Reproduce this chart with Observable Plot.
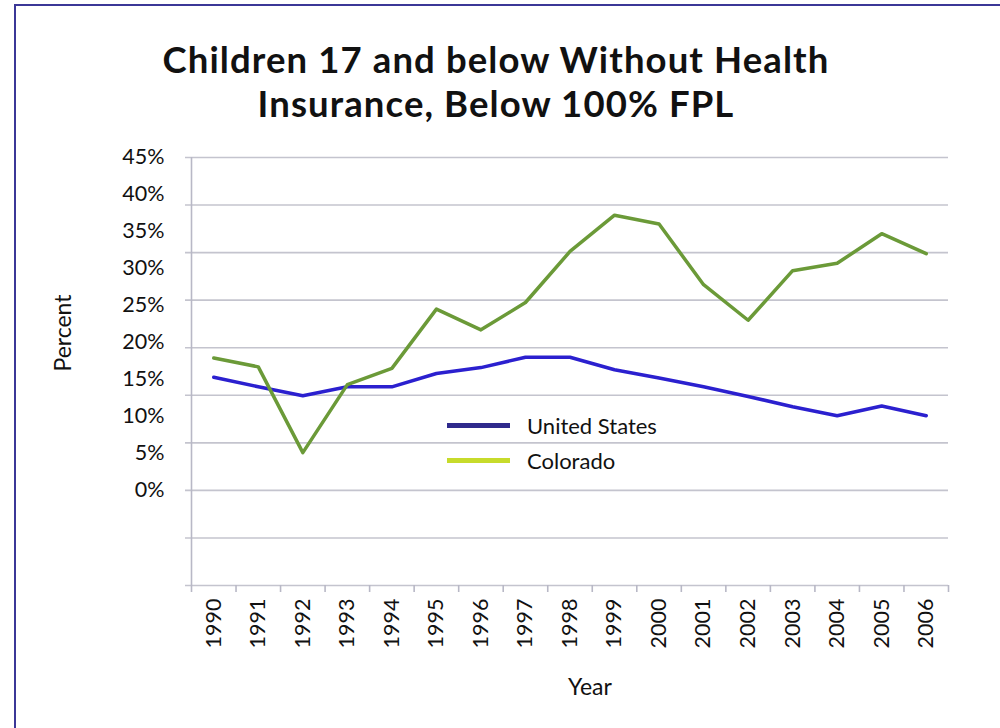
<!DOCTYPE html>
<html><head><meta charset="utf-8">
<script src="https://cdn.jsdelivr.net/npm/d3@7"></script>
<script src="https://cdn.jsdelivr.net/npm/@observablehq/plot@0.6"></script>
<style>
body{margin:0;background:#fff;}
#wrap{position:relative;width:1000px;height:728px;overflow:hidden;font-family:Lato,"Open Sans",sans-serif;color:#111;}
#frame{position:absolute;left:14px;top:4px;width:1100px;height:800px;border-top:2px solid #3b3797;border-left:2px solid #3b3797;}
.tl{position:absolute;left:-4px;width:1000px;text-align:center;font-weight:700;font-size:36.5px;line-height:1.2;letter-spacing:1.1px;white-space:nowrap;}
#t1{top:38px;}
#t2{top:82px;}
#chart{position:absolute;left:0;top:0;}
.lab{position:absolute;font-size:23px;}
#ylab{left:62px;top:333px;transform:translate(-50%,-50%) rotate(-90deg);}
#xlab{left:590px;top:686px;transform:translate(-50%,-50%);}
#legend{position:absolute;left:447px;top:408px;font-size:22px;}
.li{display:flex;align-items:center;height:35px;}
.sw{width:63px;height:5px;margin-right:17px;}
</style></head><body>
<div id="wrap">
<div id="frame"></div>
<div id="chart"></div>
<div class="tl" id="t1">Children 17 and below Without Health</div>
<div class="tl" id="t2">Insurance, Below 100% FPL</div>
<div class="lab" id="ylab">Percent</div>
<div class="lab" id="xlab">Year</div>
<div id="legend"></div>
</div>
<script>
const years = [1990,1991,1992,1993,1994,1995,1996,1997,1998,1999,2000,2001,2002,2003,2004,2005,2006];
const usValues = [15.3,14.0,12.8,14.0,14.0,15.8,16.6,18.0,18.0,16.3,15.2,14.0,12.7,11.3,10.1,11.4,10.1];
const coValues = [17.9,16.7,5.1,14.3,16.5,24.5,21.7,25.4,32.3,37.2,36.0,27.8,23.0,29.7,30.7,34.7,32.0];
const seriesNames = ["United States","Colorado"];
const lineColors = ["#2b20cf","#6b9a38"];
const legendColors = ["#2f2a8c","#c7db2b"];
const yTickValues = [0,5,10,15,20,25,30,35,40,45];

const data = years.flatMap((yr,i)=>[
  {year:yr, value:usValues[i], series:seriesNames[0]},
  {year:yr, value:coValues[i], series:seriesNames[1]}
]);
const yMin = -90/7;
const gridValues = d3.range(-2,8).map(k=>45*k/7);
const boundaries = d3.range(years.length+1).map(k=>years[0]-0.5+k);

const chart = Plot.plot({
  width:1000, height:728,
  marginLeft:191, marginRight:52, marginTop:157, marginBottom:143,
  style:{fontFamily:"Lato, 'Open Sans', sans-serif", fontSize:"21px", color:"#111", background:"transparent", overflow:"visible"},
  x:{domain:[years[0]-0.5, years[years.length-1]+0.5]},
  y:{domain:[yMin,45]},
  color:{domain:seriesNames, range:lineColors},
  marks:[
    Plot.ruleY(gridValues,{stroke:"#c4c4ce", strokeWidth:1.6, insetLeft:-6}),
    Plot.ruleX([boundaries[0]],{stroke:"#b8b8c6", strokeWidth:1.6}),
    Plot.axisX(boundaries,{tickSize:7, stroke:"#b8b8c6", strokeWidth:1.6, tickFormat:()=>"", label:null}),
    Plot.axisX(years,{tickSize:0, tickPadding:13, tickRotate:-90, tickFormat:d=>String(d), fontSize:21.5, fill:"#111", label:null}),
    Plot.axisY(yTickValues,{tickSize:0, tickPadding:27, tickFormat:d=>d+"%", fontSize:21.5, fill:"#111", label:null}),
    Plot.line(data,{x:"year", y:"value", z:"series", stroke:"series", strokeWidth:3.5})
  ]
});
document.getElementById("chart").appendChild(chart);

const leg = document.getElementById("legend");
seriesNames.forEach((s,i)=>{
  const row = document.createElement("div"); row.className="li";
  const sw = document.createElement("div"); sw.className="sw"; sw.style.background=legendColors[i];
  const t = document.createElement("span"); t.textContent=s;
  row.appendChild(sw); row.appendChild(t); leg.appendChild(row);
});
</script>
</body></html>
